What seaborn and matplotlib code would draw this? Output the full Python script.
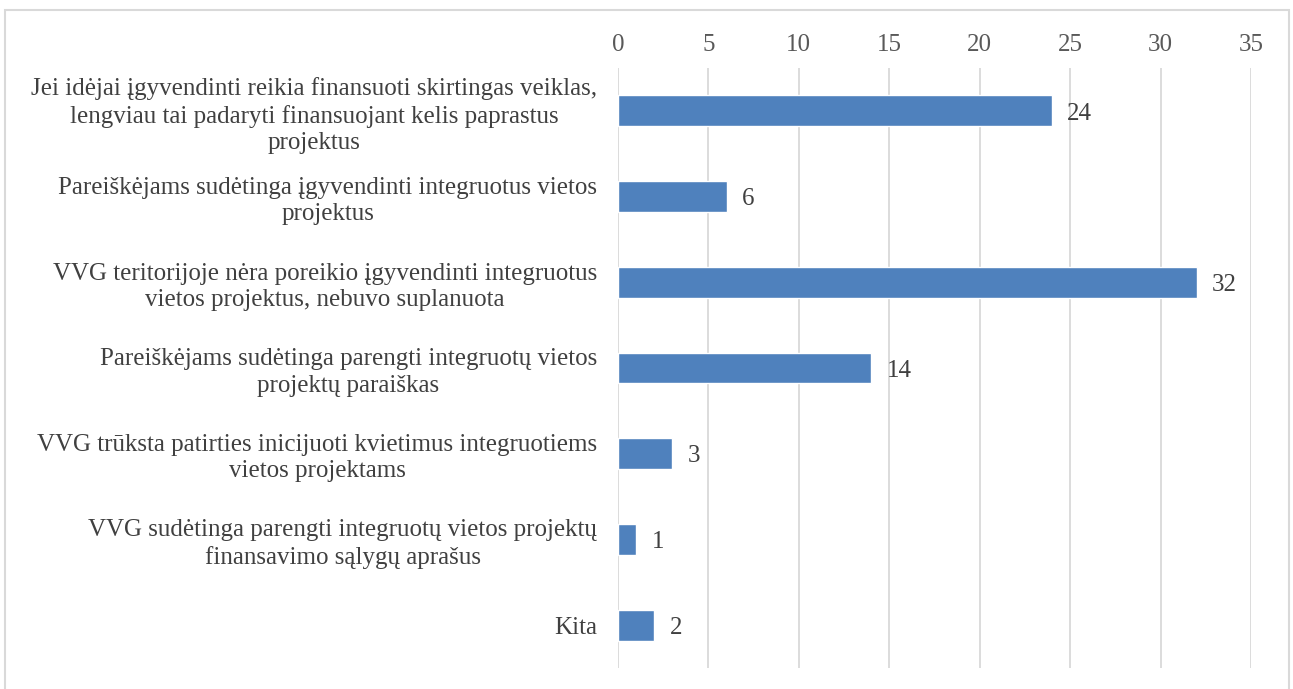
import matplotlib
matplotlib.use("Agg")
import matplotlib.pyplot as plt
import seaborn as sns
import pandas as pd
from matplotlib.patches import Rectangle

categories = [
    "Jei idėjai įgyvendinti reikia finansuoti skirtingas veiklas,\nlengviau tai padaryti finansuojant kelis paprastus\nprojektus",
    "Pareiškėjams sudėtinga įgyvendinti integruotus vietos\nprojektus",
    "VVG teritorijoje nėra poreikio įgyvendinti integruotus\nvietos projektus, nebuvo suplanuota",
    "Pareiškėjams sudėtinga parengti integruotų vietos\nprojektų paraiškas",
    "VVG trūksta patirties inicijuoti kvietimus integruotiems\nvietos projektams",
    "VVG sudėtinga parengti integruotų vietos projektų\nfinansavimo sąlygų aprašus",
    "Kita",
]
values = [24, 6, 32, 14, 3, 1, 2]
ticks = [0, 5, 10, 15, 20, 25, 30, 35]

df = pd.DataFrame({"cat": categories, "val": values})

sns.set_style("white")
plt.rcParams["font.family"] = ["Liberation Serif", "DejaVu Serif"]

fig = plt.figure(figsize=(12.93, 6.89), dpi=100)
# outer chart border
fig.add_artist(Rectangle((5 / 1293, -0.01), 1284 / 1293, 1 - 10 / 689 + 0.01,
                         transform=fig.transFigure, fill=False,
                         edgecolor="#D9D9D9", linewidth=1.5))

ax = fig.add_axes([618 / 1293, 1 - 668 / 689, (1251 - 618) / 1293, 600 / 689])
sns.barplot(data=df, x="val", y="cat", orient="h", color="#4F81BD",
            saturation=1, width=0.36, ax=ax)

ax.set_xlim(0, 35)
ax.set_ylim(6.5, -0.5)
ax.set_xticks(ticks)
ax.xaxis.tick_top()
ax.tick_params(axis="x", length=0, pad=8.5, labelsize=18, labelcolor="#595959")
ax.tick_params(axis="y", length=0, pad=15, labelsize=18, labelcolor="#404040")
for lab in ax.get_yticklabels():
    lab.set_multialignment("center")
    lab.set_linespacing(1.25)
ax.grid(axis="x", color="#D9D9D9", linewidth=1.3)
ax.set_axisbelow(True)
for s in ax.spines.values():
    s.set_visible(False)
ax.set_xlabel("")
ax.set_ylabel("")

for i, v in enumerate(values):
    ax.annotate(str(v), (v, i), xytext=(11, -2), textcoords="offset points",
                va="center", ha="left", fontsize=18, color="#404040")

fig.savefig("out.png", dpi=100)
